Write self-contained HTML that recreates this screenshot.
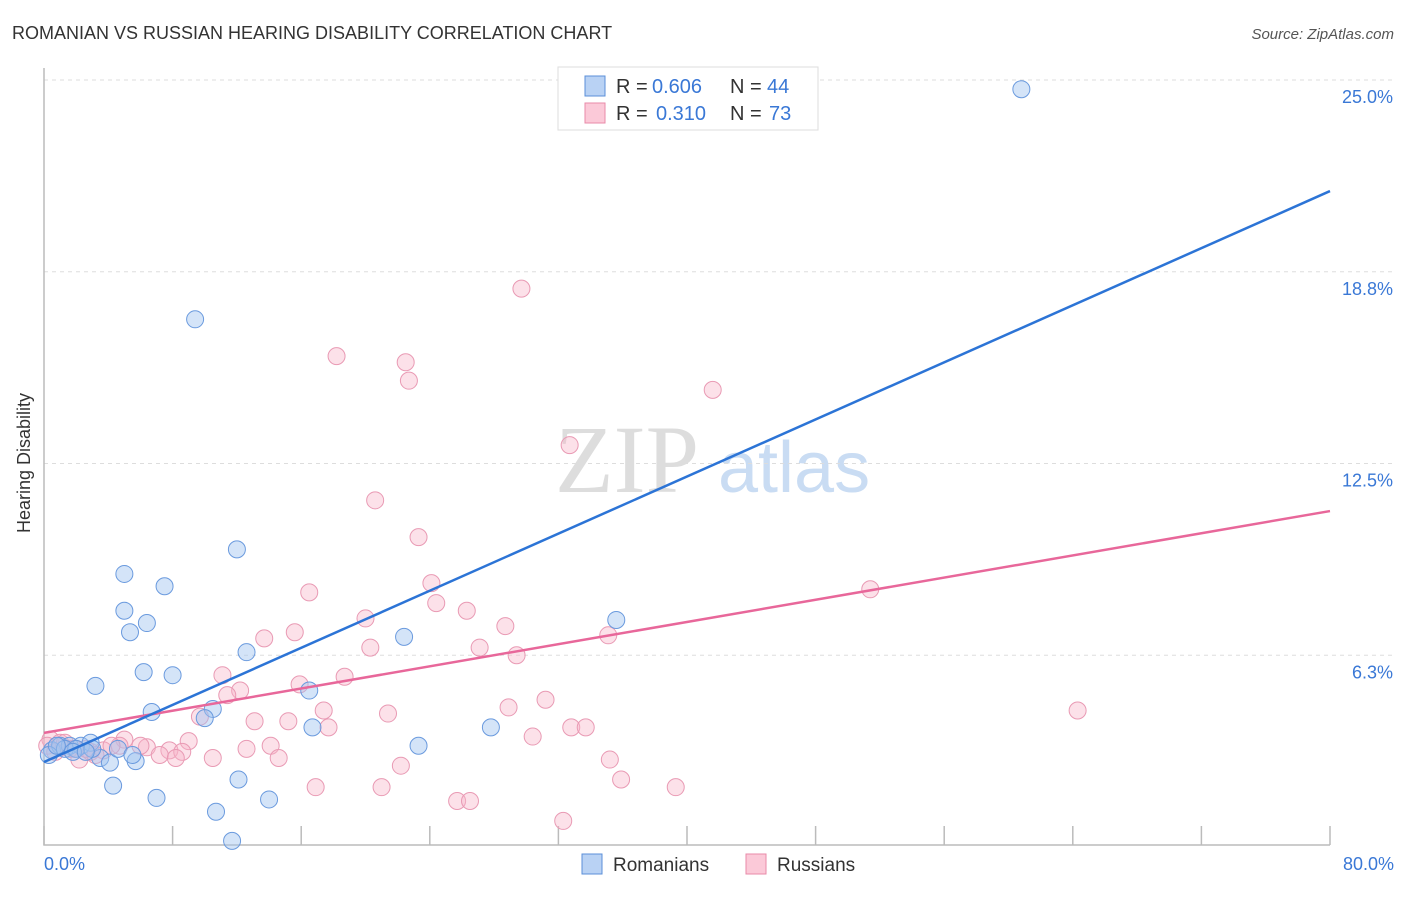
<!DOCTYPE html>
<html><head><meta charset="utf-8"><style>
body{margin:0;background:#fff;font-family:"Liberation Sans",sans-serif;}
</style></head><body>
<svg id="chart" width="1406" height="892" xmlns="http://www.w3.org/2000/svg">
<text x="12" y="39" font-size="18" fill="#333">ROMANIAN VS RUSSIAN HEARING DISABILITY CORRELATION CHART</text>
<text x="1394" y="39" font-size="15" fill="#555" font-style="italic" text-anchor="end">Source: ZipAtlas.com</text>
<g>
<text x="555" y="492" font-size="96" font-family="Liberation Serif,serif" fill="#ddd">ZIP</text>
<text x="718" y="492" font-size="72" fill="#c9dcf3">atlas</text>
</g>
<g id="grid"></g><g id="axes"></g><g id="pts"></g><g id="lines"></g>
<text x="22" y="455" font-size="18" fill="#333" transform="rotate(-90 30 455)" text-anchor="middle">Hearing Disability</text>
<text x="44" y="870" font-size="18" fill="#3a78d6">0.0%</text>
<text x="1394" y="870" font-size="18" fill="#3a78d6" text-anchor="end">80.0%</text>
<g>
<rect x="558" y="67" width="260" height="63" fill="#fff" stroke="#ddd"/>
<rect x="585" y="76" width="20" height="20" fill="#b9d2f4" stroke="#5b8fd8"/>
<rect x="585" y="103" width="20" height="20" fill="#fbc9d8" stroke="#e88aa8"/>
<text x="616" y="93" font-size="20" fill="#333">R =</text>
<text x="652" y="93" font-size="20" fill="#3a78d6">0.606</text>
<text x="730" y="93" font-size="20" fill="#333">N =</text>
<text x="767" y="93" font-size="20" fill="#3a78d6">44</text>
<text x="616" y="120" font-size="20" fill="#333">R =</text>
<text x="656" y="120" font-size="20" fill="#3a78d6">0.310</text>
<text x="730" y="120" font-size="20" fill="#333">N =</text>
<text x="769" y="120" font-size="20" fill="#3a78d6">73</text>
</g>
<g>
<rect x="582" y="854" width="20" height="20" fill="#b9d2f4" stroke="#5b8fd8"/>
<text x="613" y="871" font-size="19" fill="#333">Romanians</text>
<rect x="746" y="854" width="20" height="20" fill="#fbc9d8" stroke="#e88aa8"/>
<text x="777" y="871" font-size="19" fill="#333">Russians</text>
</g>
</svg>
<script>
const yTicks=[6.25,12.5,18.75,25];
const yTickLabels=["6.3%","12.5%","18.8%","25.0%"];
const xTicks=[0,8,16,24,32,40,48,56,64,72,80];
const romX=[60.8,9.4,12.0,5.0,7.5,5.0,6.4,5.35,35.6,22.4,12.6,6.2,8.0,3.2,16.5,10.5,6.7,10.0,16.7,27.8,23.3,0.5,1.0,1.6,2.3,2.9,3.5,4.1,5.7,4.6,4.3,12.1,7.0,14.0,10.7,11.7,0.3,1.3,2.0,3.0,0.8,1.8,5.5,2.6];
const romY=[24.7,17.2,9.7,8.9,8.5,7.7,7.3,7.0,7.4,6.85,6.35,5.7,5.6,5.25,5.1,4.5,4.4,4.2,3.9,3.9,3.3,3.15,3.3,3.3,3.3,3.4,2.9,2.75,2.8,3.2,2.0,2.2,1.6,1.55,1.15,0.2,3.0,3.2,3.2,3.2,3.3,3.1,3.0,3.1];
const rusX=[29.7,18.2,22.5,22.7,41.6,32.7,20.6,23.3,24.1,51.4,16.5,24.4,26.3,20.0,28.7,15.6,13.7,35.1,20.3,27.1,29.4,11.1,18.7,15.9,12.2,11.4,31.2,64.3,9.7,17.4,28.9,21.4,13.1,15.2,17.7,32.8,33.7,30.4,9.0,5.0,12.6,14.1,6.4,7.8,8.6,7.2,8.2,10.5,14.6,4.7,3.7,2.2,35.2,22.2,35.9,16.9,21.0,39.3,25.7,26.5,32.3,0.4,1.0,1.6,2.9,6.0,0.2,1.3,2.6,3.2,4.2,0.7,1.9];
const rusY=[18.2,16.0,15.8,15.2,14.9,13.1,11.3,10.1,8.6,8.4,8.3,7.95,7.7,7.45,7.2,7.0,6.8,6.9,6.5,6.5,6.25,5.6,5.55,5.3,5.1,4.95,4.8,4.45,4.25,4.45,4.55,4.35,4.1,4.1,3.9,3.9,3.9,3.6,3.45,3.5,3.2,3.3,3.25,3.15,3.1,3.0,2.9,2.9,2.9,3.3,3.15,2.85,2.85,2.65,2.2,1.95,1.95,1.95,1.5,1.5,0.85,3.5,3.4,3.2,3.1,3.3,3.3,3.4,3.2,3.0,3.3,3.1,3.2];
const romTrend=[2.77,21.38];
const rusTrend=[3.72,10.95];
const NS="http://www.w3.org/2000/svg";
const X=v=>44+v/80*1286, Y=v=>847-v/25*767;
function mk(t,a,p){const e=document.createElementNS(NS,t);for(const k in a)e.setAttribute(k,a[k]);p.appendChild(e);return e;}
const grid=document.getElementById('grid'),axes=document.getElementById('axes'),pts=document.getElementById('pts'),lines=document.getElementById('lines');
yTicks.forEach((v,i)=>{
 const l=mk('line',{x1:44,x2:1394,y1:Y(v),y2:Y(v),stroke:'#ddd','stroke-dasharray':'4 4'},grid);
 
 
 const t=mk('text',{x:1393,y:Y(v)+23,'font-size':18,fill:'#3a78d6','text-anchor':'end'},grid);
 t.textContent=yTickLabels[i];
 
 
});
const ax=mk('path',{d:'M44 68 V845 H1330',fill:'none',stroke:'#bbb','stroke-width':1.5},axes);


xTicks.forEach(v=>{
 const t=mk('line',{x1:X(v),x2:X(v),y1:826,y2:845,stroke:'#bbb','stroke-width':1.5},axes);
 
 
});
function series(xs,ys,fill,stroke,name){
 xs.forEach((x,i)=>{
  const c=mk('circle',{cx:X(x),cy:Y(ys[i]),r:8.5,fill:fill,stroke:stroke,'stroke-width':1},pts);
  
  
 });
}
series(rusX,rusY,'rgba(248,180,200,0.4)','#e99ab4','russian-point');
series(romX,romY,'rgba(160,195,240,0.45)','#6a9ade','romanian-point');
const l1=mk('line',{x1:X(0),y1:Y(rusTrend[0]),x2:X(80),y2:Y(rusTrend[1]),stroke:'#e8679a','stroke-width':2.5},lines);


const l2=mk('line',{x1:X(0),y1:Y(romTrend[0]),x2:X(80),y2:Y(romTrend[1]),stroke:'#2c74d6','stroke-width':2.5},lines);


</script>
</body></html>
